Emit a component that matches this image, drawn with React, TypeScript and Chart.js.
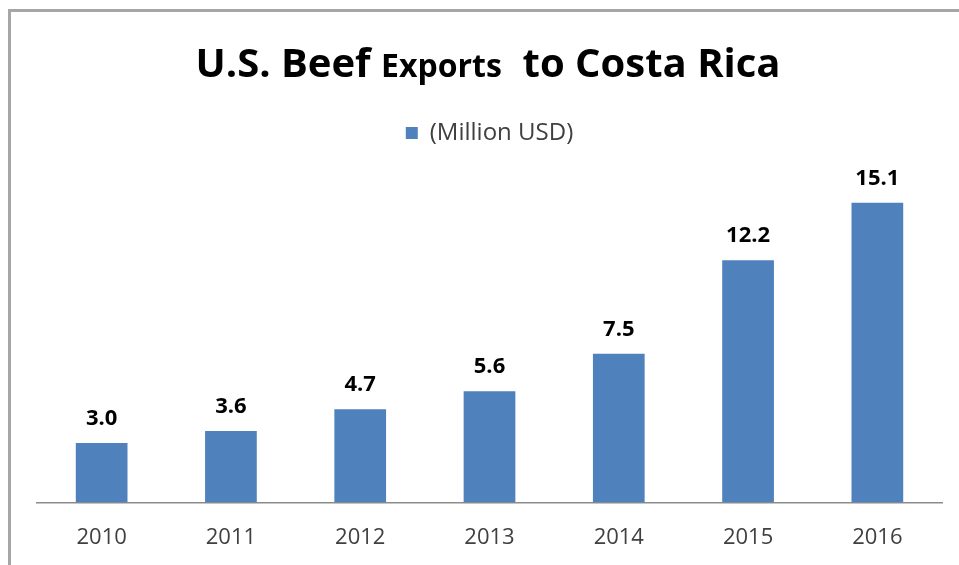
import React, { useEffect, useRef } from "react";
import { Chart, registerables } from "chart.js";

Chart.register(...registerables);

const categories = ["2010", "2011", "2012", "2013", "2014", "2015", "2016"];
const exportsMillionUSD = [3.0, 3.6, 4.7, 5.6, 7.5, 12.2, 15.1];
const seriesLabel = "(Million USD)";
const titleParts = [
  { text: "U.S. Beef ", big: true },
  { text: "Exports", big: false },
  { text: "  to Costa Rica", big: true },
];

const FONT = "'Open Sans', 'Noto Sans', sans-serif";
const BAR_COLOR = "#4F81BD";

const framePlugin = {
  id: "frame",
  beforeDraw(chart: any) {
    const ctx = chart.ctx;
    ctx.save();
    ctx.fillStyle = "#ffffff";
    ctx.fillRect(0, 0, chart.width, chart.height);
    ctx.strokeStyle = "#a6a6a6";
    ctx.lineWidth = 3;
    ctx.beginPath();
    ctx.moveTo(9.5, chart.height + 5);
    ctx.lineTo(9.5, 10.5);
    ctx.lineTo(chart.width + 5, 10.5);
    ctx.stroke();
    ctx.restore();
  },
};

const titlePlugin = {
  id: "mixedTitle",
  afterDraw(chart: any) {
    const ctx = chart.ctx;
    ctx.save();
    const bigFont = `bold 40px ${FONT}`;
    const smallFont = `bold 32px ${FONT}`;
    let total = 0;
    const widths = titleParts.map((p) => {
      ctx.font = p.big ? bigFont : smallFont;
      const w = ctx.measureText(p.text).width;
      total += w;
      return w;
    });
    let x = 488 - total / 2;
    ctx.fillStyle = "#000000";
    ctx.textBaseline = "alphabetic";
    ctx.textAlign = "left";
    titleParts.forEach((p, i) => {
      ctx.font = p.big ? bigFont : smallFont;
      ctx.fillText(p.text, x, 77);
      x += widths[i];
    });
    ctx.restore();
  },
};

const valueLabelPlugin = {
  id: "valueLabels",
  afterDatasetsDraw(chart: any) {
    const ctx = chart.ctx;
    const meta = chart.getDatasetMeta(0);
    const data = chart.data.datasets[0].data as number[];
    ctx.save();
    ctx.font = `bold 22px ${FONT}`;
    ctx.fillStyle = "#000000";
    ctx.textAlign = "center";
    ctx.textBaseline = "alphabetic";
    meta.data.forEach((bar: any, i: number) => {
      ctx.fillText(data[i].toFixed(1), bar.x, bar.y - 18);
    });
    ctx.restore();
  },
};

export default function App() {
  const canvasRef = useRef<HTMLCanvasElement | null>(null);

  useEffect(() => {
    document.body.style.margin = "0";
    const canvas = canvasRef.current;
    if (!canvas) return;
    const chart = new Chart(canvas, {
      type: "bar",
      data: {
        labels: categories,
        datasets: [
          {
            label: seriesLabel,
            data: exportsMillionUSD,
            backgroundColor: BAR_COLOR,
            borderWidth: 0,
            categoryPercentage: 1,
            barPercentage: 0.4,
          },
        ],
      },
      options: {
        responsive: false,
        animation: false,
        maintainAspectRatio: false,
        layout: { padding: { left: 37, right: 17, top: 111, bottom: 0 } },
        plugins: {
          title: { display: false },
          tooltip: { enabled: false },
          legend: {
            display: true,
            position: "top",
            labels: {
              boxWidth: 12,
              boxHeight: 12,
              color: "#404040",
              font: { family: FONT, size: 24 },
              padding: 10,
            },
          },
        },
        scales: {
          x: {
            grid: { display: false },
            border: { display: true, color: "#8c8c8c", width: 1.5 },
            ticks: { color: "#404040", font: { family: FONT, size: 22 }, padding: 14 },
          },
          y: { display: false, min: 0, max: 17.5 },
        },
      },
      plugins: [framePlugin, titlePlugin, valueLabelPlugin],
    });
    return () => chart.destroy();
  }, []);

  return (
    <div style={{ width: 959, height: 565 }}>
      <canvas ref={canvasRef} width={959} height={565} style={{ display: "block", width: 959, height: 565 }} />
    </div>
  );
}
